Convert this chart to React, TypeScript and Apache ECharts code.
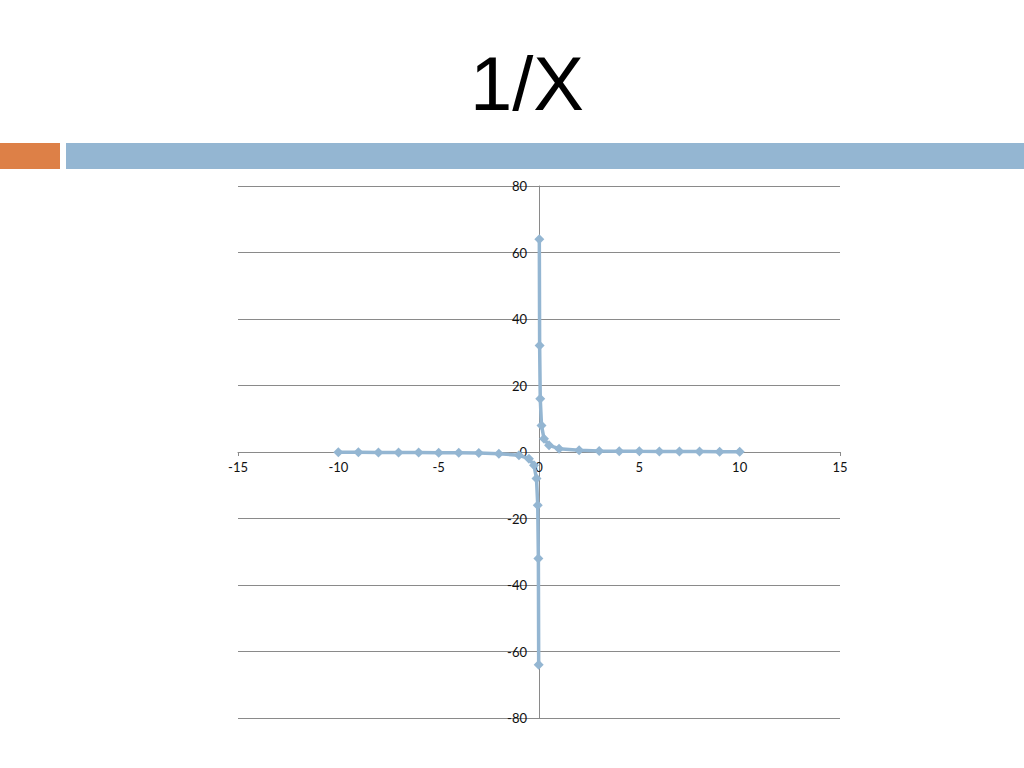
import { useRef, useEffect } from 'react'
import * as echarts from 'echarts'

const negX = [-10, -9, -8, -7, -6, -5, -4, -3, -2, -1, -0.5, -0.25, -0.125, -0.0625, -0.03125, -0.015625]
const negY = [-0.1, -0.111, -0.125, -0.143, -0.167, -0.2, -0.25, -0.333, -0.5, -1, -2, -4, -8, -16, -32, -64]
const posX = [0.015625, 0.03125, 0.0625, 0.125, 0.25, 0.5, 1, 2, 3, 4, 5, 6, 7, 8, 9, 10]
const posY = [64, 32, 16, 8, 4, 2, 1, 0.5, 0.333, 0.25, 0.2, 0.167, 0.143, 0.125, 0.111, 0.1]

const xTicks = { min: -15, max: 15, interval: 5 }
const yTicks = { min: -80, max: 80, interval: 20 }

const lineColor = '#94B6D2'
const axisGray = '#8a8a8a'
const labelFont = 'Lato, "Open Sans", sans-serif'

function pairs(xs: number[], ys: number[]) {
  return xs.map((x, i) => [x, ys[i]])
}

export default function App() {
  const chartRef = useRef<HTMLDivElement>(null)

  useEffect(() => {
    if (!chartRef.current) return
    const chart = echarts.init(chartRef.current, undefined, { renderer: 'svg' })

    const seriesBase = {
      type: 'line' as const,
      symbol: 'diamond',
      symbolSize: 10,
      lineStyle: { color: lineColor, width: 3.5 },
      itemStyle: { color: lineColor },
    }

    chart.setOption({
      animation: false,
      backgroundColor: '#ffffff',
      textStyle: { fontFamily: labelFont },
      graphic: [
        { type: 'rect', shape: { x: 0, y: 143, width: 60, height: 26 }, style: { fill: '#DD8047' } },
        { type: 'rect', shape: { x: 66, y: 143, width: 958, height: 26 }, style: { fill: '#94B6D2' } },
        {
          type: 'text',
          x: 527,
          y: 83,
          style: {
            text: '1/X',
            fontSize: 76,
            fontFamily: '"Liberation Sans", Arial, sans-serif',
            fill: '#000000',
            align: 'center',
            verticalAlign: 'middle',
          },
        },
      ],
      grid: { left: 238, right: 184, top: 186, bottom: 50 },
      xAxis: {
        type: 'value',
        ...xTicks,
        axisLine: { show: true, onZero: true, lineStyle: { color: axisGray, width: 1 } },
        axisTick: { show: true, length: 4, lineStyle: { color: axisGray } },
        // labels sit under the zero line, not at the grid bottom
        axisLabel: { color: '#111', fontSize: 13, fontFamily: labelFont, margin: -258 },
        splitLine: { show: false },
      },
      yAxis: {
        type: 'value',
        ...yTicks,
        axisLine: { show: true, onZero: true, lineStyle: { color: axisGray, width: 1 } },
        axisTick: { show: true, length: 4, lineStyle: { color: axisGray } },
        // labels sit left of the zero line
        axisLabel: { color: '#111', fontSize: 13, fontFamily: labelFont, margin: -289 },
        splitLine: { show: true, lineStyle: { color: axisGray, width: 1 } },
      },
      series: [
        { ...seriesBase, name: 'neg', data: pairs(negX, negY) },
        { ...seriesBase, name: 'pos', data: pairs(posX, posY) },
      ],
    })

    return () => chart.dispose()
  }, [])

  return (
    <div
      ref={chartRef}
      style={{ position: 'fixed', left: 0, top: 0, width: 1024, height: 768 }}
    />
  )
}
